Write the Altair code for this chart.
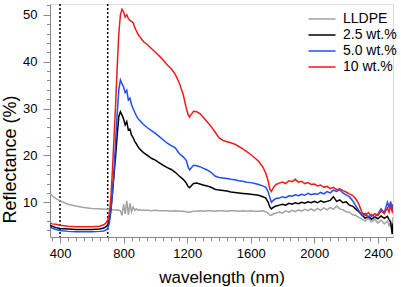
import altair as alt
import pandas as pd

# Wavelength grid (nm)
wavelength = [
    337, 350, 375, 400, 450, 500, 550, 600, 650, 675,
    690, 700, 710, 720, 730, 740, 750, 760, 770, 780,
    790, 800, 810, 820, 830, 840, 850, 860, 870, 880,
    890, 900, 925, 950, 975, 1000, 1025, 1050, 1075, 1100,
    1125, 1150, 1175, 1195, 1205, 1215, 1225, 1240, 1260, 1280,
    1300, 1325, 1350, 1375, 1400, 1425, 1450, 1475, 1500, 1525,
    1550, 1575, 1600, 1625, 1650, 1675, 1695, 1710, 1720, 1730,
    1745, 1760, 1780, 1800, 1820, 1840, 1860, 1880, 1900, 1920,
    1940, 1960, 1980, 2000, 2020, 2040, 2060, 2080, 2100, 2120,
    2140, 2160, 2180, 2200, 2220, 2240, 2260, 2280, 2300, 2320,
    2340, 2360, 2380, 2400, 2420, 2440, 2460, 2470, 2480, 2490, 2495,
]

# Reflectance (%) of each sample
lldpe = [
    11.9, 11.4, 10.8, 10.3, 9.6, 9.2, 8.9, 8.7, 8.6, 8.5,
    8.5, 8.5, 8.4, 8.4, 8.4, 8.4, 8.3, 8.4, 8.3, 8.2,
    7.2, 9.6, 7.5, 10.3, 7.3, 9.8, 8.0, 9.0, 8.3, 8.6,
    8.3, 8.4, 8.3, 8.3, 8.2, 8.3, 8.2, 8.2, 8.2, 8.1,
    8.2, 8.1, 8.1, 8.0, 7.9, 7.9, 8.0, 8.1, 8.1, 8.2,
    8.1, 8.2, 8.2, 8.1, 8.2, 8.2, 8.1, 8.2, 8.2, 8.1,
    8.2, 8.1, 8.2, 8.1, 8.1, 8.2, 8.0, 7.6, 7.3, 7.2,
    7.6, 7.7, 7.9, 7.7, 8.2, 7.9, 8.3, 8.0, 8.4, 8.1,
    8.5, 8.2, 8.6, 8.2, 8.7, 8.3, 8.8, 8.4, 8.9, 8.5,
    9.2, 8.6, 8.4, 8.0, 7.9, 7.4, 7.2, 6.8, 6.4, 6.0,
    6.6, 5.8, 6.4, 5.6, 6.2, 5.4, 6.0, 5.0, 5.8, 3.6, 6.8,
]
wt_2_5 = [
    5.1, 4.9, 4.6, 4.4, 4.3, 4.2, 4.2, 4.2, 4.3, 4.5,
    4.8, 5.2, 6.2, 8.5, 12.0, 16.0, 20.0, 24.5, 28.3, 29.3,
    28.6, 27.8, 26.5, 27.2, 25.4, 25.6, 24.3, 23.8, 23.0, 22.5,
    21.9, 21.4, 20.6, 20.0, 19.4, 19.0, 18.4, 17.9, 17.4, 17.0,
    16.4, 15.6, 14.9, 14.1, 13.4, 13.1, 13.5, 14.0, 14.1, 13.9,
    13.7, 13.5, 13.2, 12.8, 12.6, 12.5, 12.4, 12.2, 12.1, 12.0,
    11.9, 11.8, 11.7, 11.6, 11.5, 11.2, 10.9, 10.0, 9.0, 8.6,
    9.0, 9.2, 9.4, 9.6, 9.4, 9.8, 9.6, 9.9, 9.7, 10.0,
    9.8, 10.1, 9.9, 10.2, 9.9, 10.3, 10.0, 10.2, 10.4, 11.2,
    10.2, 10.5, 9.9, 10.1, 9.4, 9.2, 8.6, 8.0, 7.3, 6.6,
    7.0, 6.4, 6.9, 6.5, 7.1, 6.6, 7.0, 6.3, 5.8, 3.2, 5.5,
]
wt_5_0 = [
    4.8, 4.5, 4.2, 4.0, 3.8, 3.7, 3.7, 3.7, 3.8, 3.9,
    4.1, 4.4, 5.5, 8.0, 12.0, 17.0, 23.0, 29.0, 34.0, 36.1,
    35.3, 34.6, 33.4, 33.9, 31.8, 32.2, 30.8, 30.0, 29.2, 28.5,
    27.9, 27.5, 26.6, 25.9, 25.3, 24.7, 24.0, 23.3, 22.6, 22.1,
    21.6, 20.4, 19.7, 18.9, 17.6, 16.9, 17.3, 17.9, 17.8, 17.6,
    17.3, 16.9, 16.4, 15.6, 15.3, 15.2, 15.1, 14.9, 14.8, 14.6,
    14.5, 14.3, 14.2, 14.0, 13.8, 13.5, 13.2, 12.2, 11.0, 10.0,
    10.5, 10.8, 10.9, 11.2, 11.0, 11.4, 11.3, 11.6, 11.4, 11.7,
    11.5, 11.9, 11.6, 11.8, 11.7, 12.1, 11.8, 12.3, 12.0, 12.6,
    12.3, 12.7, 12.0, 11.6, 11.2, 10.4, 9.3, 8.2, 7.2, 7.6,
    6.8, 7.4, 6.9, 7.5, 8.6, 7.8, 10.0, 8.9, 10.2, 8.6, 9.6,
]
wt_10 = [
    5.6, 5.4, 5.3, 5.1, 4.9, 4.8, 4.8, 4.8, 4.9, 5.2,
    5.6, 6.2, 7.5, 11.0, 17.0, 24.0, 31.0, 39.0, 46.0, 50.0,
    51.2, 50.6, 49.5, 50.0, 49.2, 48.8, 48.6, 48.3, 47.3, 46.6,
    45.9, 45.4, 44.3, 43.6, 42.8, 42.0, 41.2, 40.3, 39.3, 38.5,
    37.3, 35.5, 33.0, 30.0, 28.8, 28.2, 28.7, 29.4, 29.3, 28.9,
    28.2, 27.2, 26.2, 25.0, 23.8, 23.2, 22.9, 22.7, 22.4, 21.9,
    21.4, 20.8, 20.2, 19.5, 18.7, 17.6, 16.2, 14.5, 12.8, 12.3,
    13.3, 13.8, 14.1, 14.3, 14.0, 14.6, 14.4, 14.9, 14.3, 14.5,
    14.0, 14.2, 13.8, 13.9, 13.5, 13.7, 13.2, 13.4, 12.9, 13.2,
    12.7, 12.9, 12.5, 12.2, 11.8, 11.5, 10.8, 9.6, 7.8, 7.2,
    7.8, 7.0, 7.6, 7.2, 8.2, 7.6, 8.8, 7.9, 9.2, 8.0, 8.6,
]

series_names = ["LLDPE", "2.5 wt.%", "5.0 wt.%", "10 wt.%"]
series_colors = ["#a3a3a3", "#000000", "#1d4ff2", "#ee1b1b"]
series_values = [lldpe, wt_2_5, wt_5_0, wt_10]

# Band edges marked with dotted lines (nm)
marker_lines = [400, 700]

x_major = [400, 800, 1200, 1600, 2000, 2400]
x_minor = list(range(350, 2451, 50))
y_major = [10, 20, 30, 40, 50]
y_minor = list(range(4, 53, 2))

rows = []
for name, vals in zip(series_names, series_values):
    for w, v in zip(wavelength, vals):
        rows.append({"wavelength": w, "reflectance": v, "sample": name})
df = pd.DataFrame(rows)

FONT = "Liberation Sans"
x_scale = alt.Scale(domain=[337, 2495], nice=False, zero=False)
y_scale = alt.Scale(domain=[2.6, 52.3], nice=False, zero=False)

lines = alt.Chart(df).mark_line(strokeWidth=1.5, clip=True).encode(
    x=alt.X("wavelength:Q", scale=x_scale,
            axis=alt.Axis(orient="bottom", values=x_major, format="d",
                          title="wavelength (nm)",
                          tickSize=6, labelPadding=4, labelFontSize=13,
                          titleFontSize=17, titleFontWeight="normal",
                          titleBaseline="alphabetic", titleY=45, grid=False)),
    y=alt.Y("reflectance:Q", scale=y_scale,
            axis=alt.Axis(orient="left", values=y_major, format="d",
                          title="Reflectance (%)",
                          tickSize=7, labelPadding=6, labelFontSize=13,
                          titleFontSize=18, titleFontWeight="normal",
                          titleAngle=270, titleAlign="center",
                          titleBaseline="alphabetic",
                          titleX=-35, titleY=155, grid=False)),
    color=alt.Color("sample:N", sort=series_names,
                    scale=alt.Scale(domain=series_names, range=series_colors),
                    legend=alt.Legend(title=None, orient="none", legendX=265, legendY=8,
                                      symbolType="M-2.25,0H2.25", symbolSize=144,
                                      symbolStrokeWidth=1.5, labelFontSize=14,
                                      labelFont=FONT, labelOffset=14, rowPadding=2,
                                      padding=0)),
    detail="sample:N",
)

# Minor tick marks on both axes
minor = alt.Chart(df).mark_line(opacity=0).encode(
    x=alt.X("wavelength:Q", scale=x_scale,
            axis=alt.Axis(orient="bottom", values=x_minor, labels=False, domain=False,
                          tickSize=3.5, title=None, grid=False)),
    y=alt.Y("reflectance:Q", scale=y_scale,
            axis=alt.Axis(orient="left", values=y_minor, labels=False, domain=False,
                          tickSize=3.5, title=None, grid=False)),
    detail="sample:N",
)

rules = alt.Chart(pd.DataFrame({"wavelength": marker_lines})).mark_rule(
    color="black", strokeWidth=1.5, strokeDash=[2, 2]
).encode(x=alt.X("wavelength:Q", scale=x_scale, axis=None))

chart = alt.layer(minor, rules, lines).resolve_axis(
    x="independent", y="independent"
).properties(
    width=343, height=233,
    autosize=alt.AutoSizeParams(type="none"),
    padding={"left": 50, "top": 4, "right": 8, "bottom": 50},
).configure_view(stroke=None).configure_axis(
    labelFont=FONT, titleFont=FONT, labelColor="black", titleColor="black",
    domainColor="black", tickColor="black", domainWidth=1, tickWidth=1,
).configure(background="white")

chart.save("out.html", embed_options={"renderer": "svg", "actions": False})
